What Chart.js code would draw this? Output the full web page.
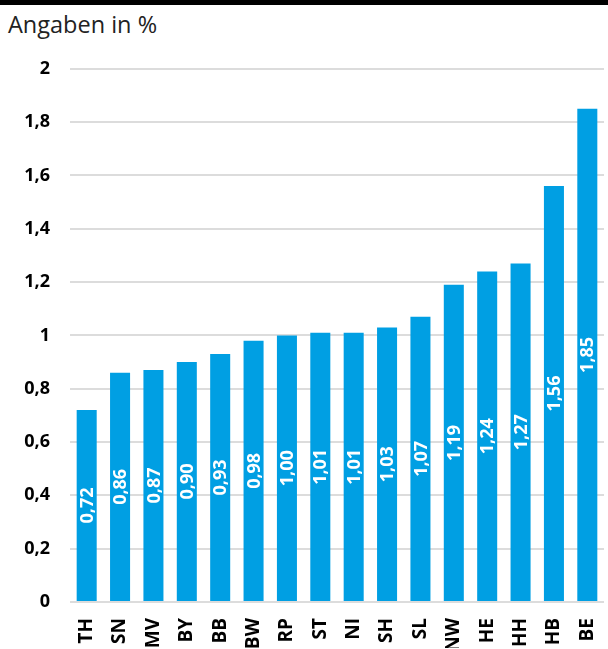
<!DOCTYPE html>
<html lang="de">
<head>
<meta charset="utf-8">
<script src="https://cdn.jsdelivr.net/npm/chart.js@4/dist/chart.umd.min.js"></script>
<style>
  html, body { margin: 0; padding: 0; background: #fff; overflow: hidden; }
  #wrap { width: 608px; height: 649px; position: relative; }
  #topline { height: 5px; background: #000; }
  #title { position: absolute; left: 8px; top: 8px; font: 23.5px "Open Sans", sans-serif; color: #222; }
  #chart-box { position: absolute; left: 0; top: 38px; width: 608px; height: 611px; }
</style>
</head>
<body>
<div id="wrap">
  <div id="topline"></div>
  <div id="title">Angaben in %</div>
  <div id="chart-box"><canvas id="chart"></canvas></div>
</div>
<script>
const laender = ["TH", "SN", "MV", "BY", "BB", "BW", "RP", "ST", "NI", "SH", "SL", "NW", "HE", "HH", "HB", "BE"];
const werte   = [0.72, 0.86, 0.87, 0.90, 0.93, 0.98, 1.00, 1.01, 1.01, 1.03, 1.07, 1.19, 1.24, 1.27, 1.56, 1.85];
const yTicks  = [0, 0.2, 0.4, 0.6, 0.8, 1, 1.2, 1.4, 1.6, 1.8, 2];

const fmt = (v, d) => v.toLocaleString("de-DE", { minimumFractionDigits: d, maximumFractionDigits: d });

// value labels inside the bars, rotated
const barLabels = {
  id: "barLabels",
  afterDatasetsDraw(chart) {
    const ctx = chart.ctx;
    const meta = chart.getDatasetMeta(0);
    ctx.save();
    ctx.fillStyle = "#fff";
    ctx.font = "bold 18px 'Open Sans', sans-serif";
    ctx.textAlign = "center";
    ctx.textBaseline = "middle";
    meta.data.forEach((bar, i) => {
      const cy = (bar.y + bar.base) / 2;
      ctx.save();
      ctx.translate(bar.x, cy);
      ctx.rotate(-Math.PI / 2);
      ctx.fillText(fmt(werte[i], 2), 0, 1);
      ctx.restore();
    });
    ctx.restore();
  }
};

new Chart(document.getElementById("chart"), {
  type: "bar",
  data: {
    labels: laender,
    datasets: [{
      data: werte,
      backgroundColor: "#009FE3",
      borderWidth: 0,
      barPercentage: 0.6,
      categoryPercentage: 1
    }]
  },
  options: {
    responsive: true,
    maintainAspectRatio: false,
    animation: false,
    layout: { autoPadding: false, padding: { left: 0, right: 4, top: 18, bottom: 1 } },
    plugins: {
      legend: { display: false },
      tooltip: { enabled: false }
    },
    scales: {
      x: {
        grid: { display: false },
        border: { display: false },
        afterFit: scale => {
          scale.height = 46;
          scale.paddingLeft = 0;
          scale.paddingRight = 0;
        },
        ticks: {
          minRotation: 90,
          maxRotation: 90,
          padding: 8,
          color: "#000",
          font: { family: "'Open Sans', sans-serif", size: 19, weight: "bold" }
        }
      },
      y: {
        min: 0,
        max: 2,
        afterBuildTicks: axis => { axis.ticks = yTicks.map(v => ({ value: v })); },
        afterFit: scale => { scale.width = 70; },
        grid: { color: "#dcdcdc", lineWidth: 2, drawTicks: false },
        border: { display: false },
        ticks: {
          padding: 20,
          color: "#000",
          font: { family: "'Open Sans', sans-serif", size: 18, weight: "bold" },
          callback: v => v === 0 || v === 1 || v === 2 ? String(v) : fmt(v, 1)
        }
      }
    }
  },
  plugins: [barLabels]
});
</script>
</body>
</html>
